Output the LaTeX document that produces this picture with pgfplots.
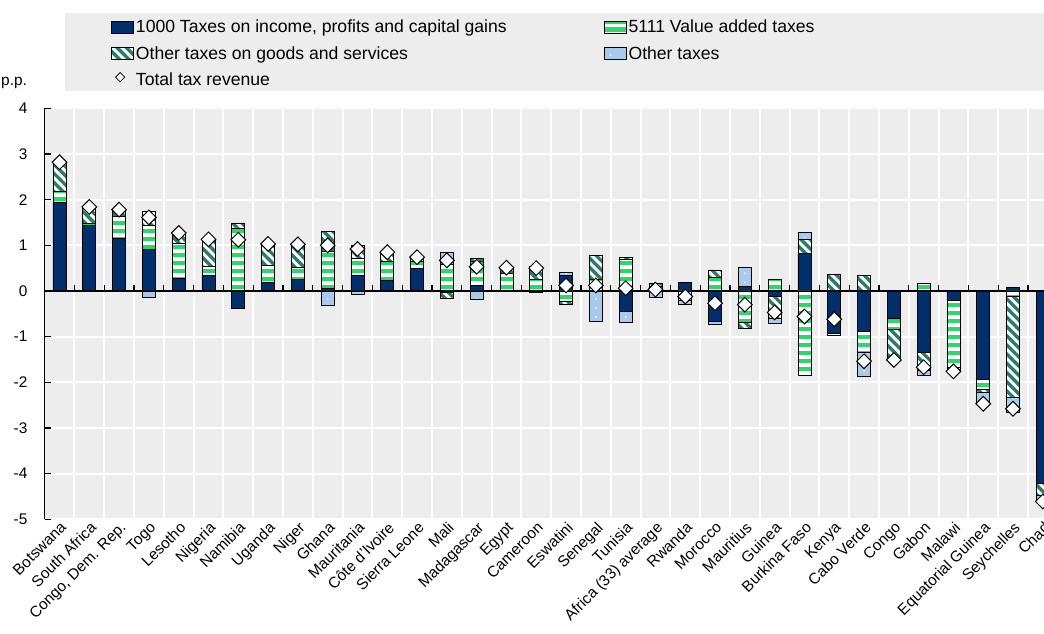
\documentclass[border=0pt]{standalone}
\usepackage{fontspec}
\setmainfont{Liberation Sans}
\usepackage{pgfplots}
\pgfplotsset{compat=1.18}
\usepackage{pgfplotstable}
\usetikzlibrary{calc}

\definecolor{bggray}{HTML}{EDEDED}
\definecolor{navy}{HTML}{002F6C}
\definecolor{vatgreen}{HTML}{2ED66B}
\definecolor{ogsteal}{HTML}{2C7A68}
\definecolor{othblue}{HTML}{A8CBEC}

\newif\ifinpp
\newcommand\getbb{%
  \path[draw=none] let \p1=(path picture bounding box.south west), \p2=(path picture bounding box.north east) in
  \pgfextra{\pgfmathsetmacro\tmpw{\x2-\x1}\global\let\bbw\tmpw
            \pgfmathsetmacro\tmph{\y2-\y1}\global\let\bbh\tmph};}
\tikzset{
  vatpic/.style={path picture={\ifinpp\else\inpptrue\getbb
    \pgfmathtruncatemacro\nn{\bbh/8+1}%
    \foreach \k in {0,...,\nn}{\fill[vatgreen, draw=none] ([yshift=\k*8pt+1.7pt]path picture bounding box.south west) rectangle ([yshift=\k*8pt+6.3pt]path picture bounding box.south east);}\fi}},
  ogspic/.style={path picture={\ifinpp\else\inpptrue\getbb
    \pgfmathtruncatemacro\nn{(\bbw+\bbh)/9.2+2}%
    \pgfmathsetlengthmacro\LL{\bbh*1pt+6pt}%
    \foreach \k in {0,...,\nn}{\draw[ogsteal, fill=none, line width=3.3pt] ([xshift=\k*9.2pt, yshift=-1pt]path picture bounding box.south west) -- ++(-\LL,\LL);}\fi}},
  othpic/.style={path picture={\ifinpp\else\inpptrue\getbb
    \pgfmathtruncatemacro\ni{\bbw/29.8}%
    \pgfmathtruncatemacro\nj{\bbh/9}%
    \foreach \i in {0,...,\ni}{\foreach \j in {0,...,\nj}{\fill[white, draw=none] ([xshift=6.5pt+\i*29.8pt, yshift=4.5pt+\j*9pt]path picture bounding box.south west) circle (0.9pt);}}\fi}},
}

\newcommand\tickfont{\fontsize{15.4}{18}\selectfont}
\newcommand\legfont{\fontsize{17.6}{20}\selectfont}

\pgfplotstableread{
idx inc vat ogs oth tot
0 1.95 0.22 0.63 0 2.82
1 1.43 0.04 0.35 0 1.84
2 1.15 0.48 0.12 0 1.78
3 0.90 0.53 0.31 -0.13 1.61
4 0.27 0.77 0.21 0 1.27
5 0.34 0.20 0.57 0 1.13
6 -0.38 1.38 0.11 0 1.12
7 0.18 0.37 0.48 0 1.03
8 0.25 0.27 0.50 0 1.02
9 0.06 0.80 0.45 -0.31 1.00
10 0.34 0.37 0.28 -0.07 0.92
11 0.23 0.42 0.20 0 0.85
12 0.50 0.14 0.10 0 0.74
13 -0.03 0.58 -0.14 0.26 0.67
14 0.12 0.53 0.07 -0.19 0.53
15 0.01 0.37 0.13 0 0.51
16 -0.04 0.26 0.28 0 0.50
17 0.34 -0.22 -0.07 0.07 0.12
18 0.02 0.24 0.52 -0.66 0.12
19 -0.45 0.69 0.05 -0.23 0.06
20 0.05 0.05 0.07 -0.14 0.03
21 0.18 -0.08 -0.12 -0.10 -0.12
22 -0.66 0.30 0.16 -0.07 -0.27
23 0.09 -0.69 -0.12 0.42 -0.30
24 -0.12 0.25 -0.49 -0.11 -0.47
25 0.82 -1.84 0.30 0.16 -0.56
26 -0.94 -0.04 0.36 0 -0.62
27 -0.88 -0.46 0.34 -0.54 -1.54
28 -0.60 -0.25 -0.64 0 -1.51
29 -1.35 0.17 -0.40 -0.09 -1.67
30 -0.20 -1.48 -0.08 0 -1.76
31 -1.93 -0.22 -0.07 -0.25 -2.47
32 0.07 -0.12 -2.20 -0.33 -2.58
33 -4.21 0 -0.26 -0.14 -4.61
}\data

\pgfplotsset{
  barlegend/.style={legend image code/.code={\draw[##1] (0pt,-6pt) rectangle (22pt,6pt);}},
  incstyle/.style={fill=navy, draw=black, line width=0.8pt},
  vatstyle/.style={fill=white, draw=black, line width=0.8pt, vatpic},
  ogsstyle/.style={fill=white, draw=black, line width=0.8pt, ogspic},
  othstyle/.style={fill=othblue, draw=black, line width=0.8pt, othpic},
  common/.style={
    scale only axis, width=999.4pt, height=411pt,
    at={(44.6pt,113.7pt)}, anchor=south west,
    xmin=-0.5, xmax=33.04, ymin=-5, ymax=4,
  },
}

\begin{document}
\begin{tikzpicture}
\useasboundingbox (0,0) rectangle (1044pt,633pt);
\fill[bggray] (65pt,542pt) rectangle (1044pt,620pt);
\node[anchor=west, inner sep=0pt, font=\tickfont] at (1pt,550pt) {p.p.};

% axis 1: background, grids, labels, positive parts, legend
\begin{axis}[common,
  ybar stacked, bar width=13pt,
  axis background/.style={fill=bggray},
  axis lines*=left,
  x axis line style={draw=none},
  y axis line style={black, line width=1.6pt, -},
  ytick={-5,...,4},
  ytick style={black, line width=1.2pt},
  tick align=inside, major tick length=6pt,
  xtick={0,...,33}, xtick style={draw=none},
  minor xtick={0.5,1.5,...,32.5}, minor tick length=0pt,
  ymajorgrids, xminorgrids,
  major grid style={white, line width=2pt},
  minor grid style={white, line width=2pt},
  /pgf/number format/assume math mode=true,
  yticklabel style={font=\tickfont, inner sep=0pt, xshift=-17pt},
  xticklabel style={font=\tickfont, rotate=45, anchor=north east, inner sep=1pt},
  xticklabels={Botswana,South Africa,{Congo, Dem. Rep.},Togo,Lesotho,Nigeria,Namibia,Uganda,Niger,Ghana,Mauritania,C\^ote d'Ivoire,Sierra Leone,Mali,Madagascar,Egypt,Cameroon,Eswatini,Senegal,Tunisia,Africa (33) average,Rwanda,Morocco,Mauritius,Guinea,Burkina Faso,Kenya,Cabo Verde,Congo,Gabon,Malawi,Equatorial Guinea,Seychelles,Chad},
  legend columns=2, legend cell align=left,
  legend style={at={(axis description cs:0.0664,1.2200)}, anchor=north west,
    draw=none, fill=none, inner sep=0pt, font=\legfont, row sep=8pt,
    /tikz/every even column/.append style={column sep=95pt}},
]
\addplot[incstyle, barlegend] table[x=idx, y expr={max(\thisrow{inc},0)}] {\data};
\addlegendentry{1000 Taxes on income, profits and capital gains}
\addplot[vatstyle, barlegend] table[x=idx, y expr={max(\thisrow{vat},0)}] {\data};
\addlegendentry{5111 Value added taxes}
\addplot[ogsstyle, barlegend] table[x=idx, y expr={max(\thisrow{ogs},0)}] {\data};
\addlegendentry{Other taxes on goods and services}
\addplot[othstyle, barlegend] table[x=idx, y expr={max(\thisrow{oth},0)}] {\data};
\addlegendentry{Other taxes}
\addlegendimage{legend image code/.code={\node[draw=black, line width=0.8pt, fill=white, rotate=45, minimum size=6.5pt, inner sep=0pt] at (6pt,0pt) {};}}
\addlegendentry{Total tax revenue}
\end{axis}

% axis 2: negative parts and zero line
\begin{axis}[common,
  ybar stacked, bar width=13pt,
  axis x line=middle, axis y line=none,
  x axis line style={black, line width=1.6pt, -},
  xtick={0.5,1.5,...,32.5}, xticklabels={},
  xtick style={black, line width=1.2pt},
  tick align=inside, major tick length=6pt,
]
\addplot[incstyle] table[x=idx, y expr={min(\thisrow{inc},0)}] {\data};
\addplot[vatstyle] table[x=idx, y expr={min(\thisrow{vat},0)}] {\data};
\addplot[ogsstyle] table[x=idx, y expr={min(\thisrow{ogs},0)}] {\data};
\addplot[othstyle] table[x=idx, y expr={min(\thisrow{oth},0)}] {\data};
\end{axis}

% axis 3: totals
\begin{axis}[common, hide axis]
\addplot[only marks, mark=square*, mark size=5.2pt,
  mark options={rotate=45, fill=white, draw=black, line width=1pt}]
  table[x=idx, y=tot] {\data};
\end{axis}
\end{tikzpicture}
\end{document}
